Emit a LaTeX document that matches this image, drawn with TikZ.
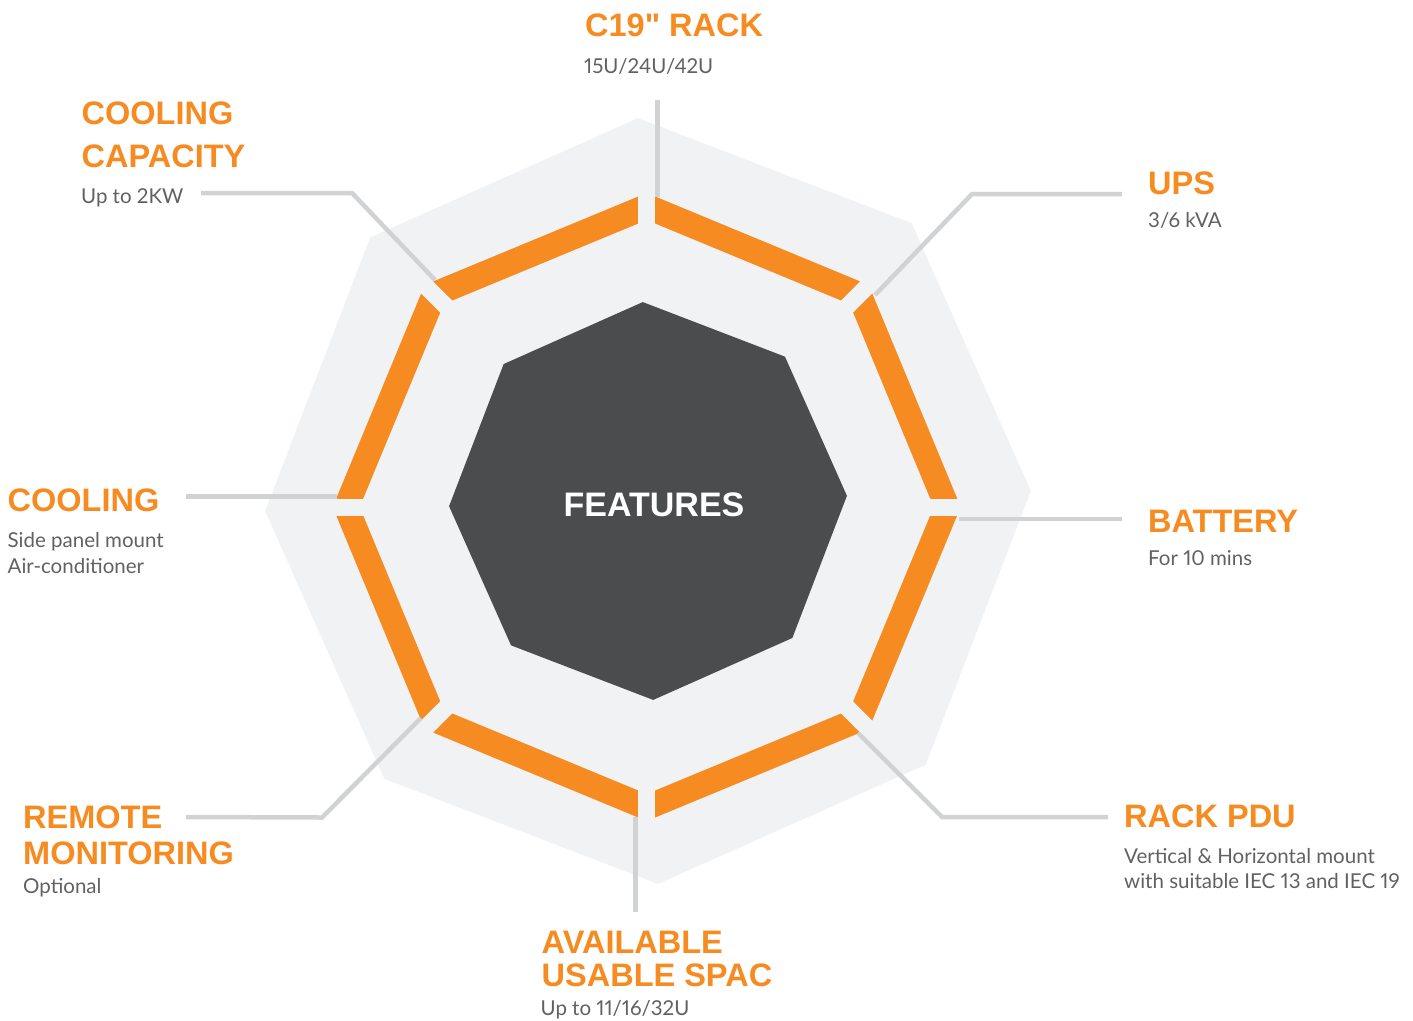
\documentclass[tikz,border=0pt]{standalone}
\usepackage{fontspec}
\setmainfont{Liberation Sans}
\newfontfamily\headfont{Liberation Sans}
\newfontfamily\subfont{Lato}[Numbers=Proportional]
\definecolor{orng}{RGB}{246,139,33}
\definecolor{panel}{RGB}{241,242,244}
\definecolor{core}{RGB}{75,76,78}
\definecolor{wire}{RGB}{209,210,212}
\definecolor{subtxt}{RGB}{96,97,99}
\begin{document}
\begin{tikzpicture}[x=1pt,y=-1pt,
  head/.style={anchor=base west, inner sep=0pt, text=orng, font=\headfont\bfseries\fontsize{32.5}{32.5}\selectfont},
  sub/.style={anchor=base west, inner sep=0pt, text=subtxt, font=\subfont\fontsize{20.5}{20.5}\selectfont},
  wireline/.style={draw=wire, line width=4.5pt},
  gapstrip/.style={draw=panel, line width=17pt},
]
\useasboundingbox (0,0) rectangle (1413,1020);

% outer light panel
\fill[panel, shift={(648,501)}] (268.5:383) -- (313.5:383) -- (358.5:383) -- (43.5:383)
  -- (88.5:383) -- (133.5:383) -- (178.5:383) -- (223.5:383) -- cycle;

% orange ring
\fill[orng, even odd rule, shift={(646.7,507)}]
  (0:314) -- (45:314) -- (90:314) -- (135:314) -- (180:314) -- (225:314) -- (270:314) -- (315:314) -- cycle
  (0:287) -- (45:287) -- (90:287) -- (135:287) -- (180:287) -- (225:287) -- (270:287) -- (315:287) -- cycle;
\foreach \a in {0,45,...,315}
  \draw[gapstrip, shift={(646.7,507)}] (\a:265) -- (\a:332);

% dark core
\fill[core, shift={(648,501)}] (268.5:199) -- (313.5:199) -- (358.5:199) -- (43.5:199)
  -- (88.5:199) -- (133.5:199) -- (178.5:199) -- (223.5:199) -- cycle;
\node[anchor=base, inner sep=0pt, text=white, font=\headfont\bfseries\fontsize{34}{34}\selectfont] (features) at (654,516.5) {FEATURES};

% labels
\node[head] (rack) at (585,36.7) {C19" RACK};
\node[sub] (racksub) at (584,73) {15U/24U/42U};
\node[head] (capA) at (81.5,124) {COOLING};
\node[head] (capB) at (81.5,167) {CAPACITY};
\node[sub] (capsub) at (81,203) {Up to 2KW};
\node[head] (ups) at (1148,194) {UPS};
\node[sub] (upssub) at (1148,227) {3/6 kVA};
\node[head] (cool) at (7.5,511.5) {COOLING};
\node[sub] (coolA) at (7.5,547) {Side panel mount};
\node[sub] (coolB) at (7.5,573) {Air-conditioner};
\node[head] (batt) at (1148,532) {BATTERY};
\node[sub] (battsub) at (1148,565) {For 10 mins};
\node[head] (remA) at (23,828) {REMOTE};
\node[head] (remB) at (23,864) {MONITORING};
\node[sub] (remsub) at (23,893) {Optional};
\node[head] (pdu) at (1124,827) {RACK PDU};
\node[sub] (pduA) at (1124,863) {Vertical \& Horizontal mount};
\node[sub] (pduB) at (1124,888) {with suitable IEC 13 and IEC 19};
\node[head] (avA) at (541.5,953) {AVAILABLE};
\node[head] (avB) at (541.5,986) {USABLE SPAC};
\node[sub] (avsub) at (540.5,1015) {Up to 11/16/32U};

% connector points
\coordinate (t1) at (657.5,100);  \coordinate (t2) at (657.5,197);
\coordinate (u1) at (1122,194);   \coordinate (u2) at (972,194);   \coordinate (u3) at (875,295);
\coordinate (b1) at (1122,519);   \coordinate (b2) at (959,519);
\coordinate (p1) at (1108,817);   \coordinate (p2) at (942,817);   \coordinate (p3) at (858,733);
\coordinate (s1) at (635.5,912);  \coordinate (s2) at (635.5,817);
\coordinate (m1) at (186,817);    \coordinate (m2) at (322,817.5); \coordinate (m3) at (421,718);
\coordinate (c1) at (186,496.5);  \coordinate (c2) at (337,496.5);
\coordinate (k1) at (201,193);    \coordinate (k2) at (352,193);   \coordinate (k3) at (435,280);

\draw[wireline] (t1) -- (t2);
\draw[wireline] (u1) -- (u2) -- (u3);
\draw[wireline] (b1) -- (b2);
\draw[wireline] (p1) -- (p2) -- (p3);
\draw[wireline] (s1) -- (s2);
\draw[wireline] (m1) -- (m2) -- (m3);
\draw[wireline] (c1) -- (c2);
\draw[wireline] (k1) -- (k2) -- (k3);
\end{tikzpicture}
\end{document}
